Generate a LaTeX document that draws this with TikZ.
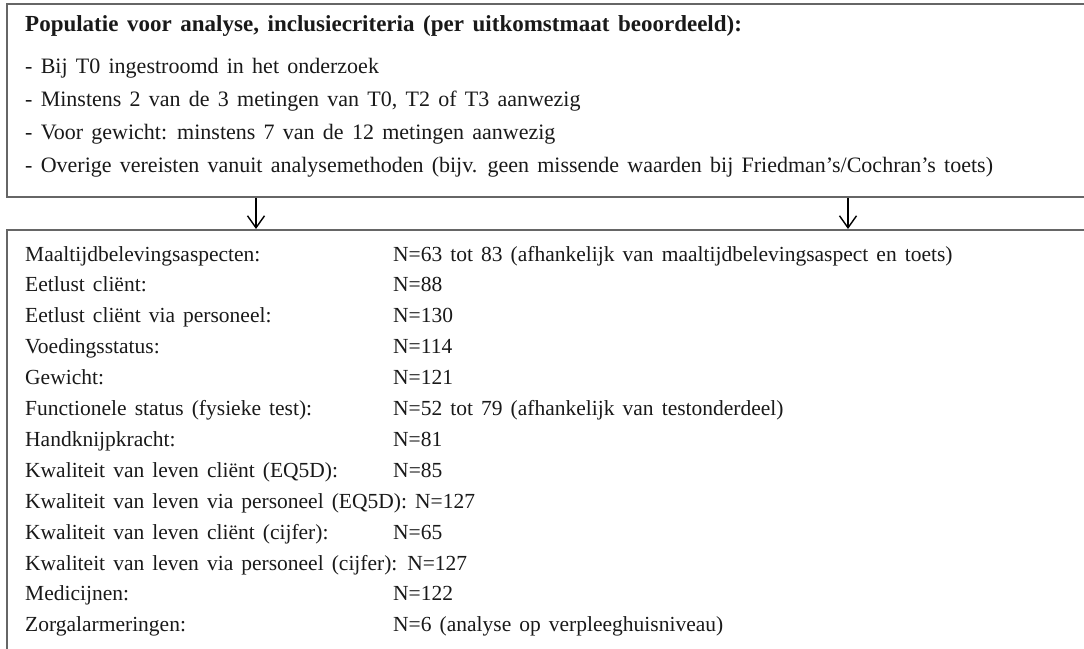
\documentclass[tikz,border=0pt]{standalone}
\usepackage{fontspec}
\setmainfont{Liberation Serif}[WordSpace=1.3]
\newfontfamily\topfont{Liberation Serif}[WordSpace=1.5,Ligatures=TeX]
\usetikzlibrary{arrows.meta}
\newcommand{\rowlab}[1]{\makebox[368pt][l]{#1}}
\begin{document}
\begin{tikzpicture}[x=1pt,y=-1pt,
 boxframe/.style={draw=black!60,line width=1.8pt,rectangle,inner sep=0pt,anchor=north west},
 txt/.style={anchor=base west,inner sep=0pt,font=\fontsize{21.5}{24}\selectfont,text=black!90},
 toptxt/.style={txt,font=\topfont\fontsize{22}{24}\selectfont},
 ttl/.style={txt,font=\topfont\fontsize{23}{24}\selectfont\bfseries},
 arr/.style={-{Straight Barb[length=12pt,width=17pt,line width=1.4pt]},line width=1.4pt}]
\useasboundingbox (0,0) rectangle (1084,648);
\node[boxframe,minimum width=1100pt,minimum height=193pt] (top) at (6,3) {};
\node[boxframe,minimum width=1100pt,minimum height=440pt] (bot) at (6,229) {};
\node[ttl] (t0) at (25,31) {Populatie voor analyse, inclusiecriteria (per uitkomstmaat beoordeeld):};
\node[toptxt] (t1) at (25,73) {- Bij T0 ingestroomd in het onderzoek};
\node[toptxt] (t2) at (25,106) {- Minstens 2 van de 3 metingen van T0, T2 of T3 aanwezig};
\node[toptxt] (t3) at (25,139) {- Voor gewicht: minstens 7 van de 12 metingen aanwezig};
\node[toptxt] (t4) at (25,172) {- Overige vereisten vanuit analysemethoden (bijv. geen missende waarden bij Friedman’s/Cochran’s toets)};
\coordinate (a1) at (256,0);
\coordinate (a2) at (848,0);
\draw[arr] (top.south -| a1) -- (bot.north -| a1);
\draw[arr] (top.south -| a2) -- (bot.north -| a2);
\node[txt] (r1) at (25,261) {\rowlab{Maaltijdbelevingsaspecten:}N=63 tot 83 (afhankelijk van maaltijdbelevingsaspect en toets)};
\node[txt] (r2) at (25,291.9) {\rowlab{Eetlust cliënt:}N=88};
\node[txt] (r3) at (25,322.8) {\rowlab{Eetlust cliënt via personeel:}N=130};
\node[txt] (r4) at (25,353.7) {\rowlab{Voedingsstatus:}N=114};
\node[txt] (r5) at (25,384.6) {\rowlab{Gewicht:}N=121};
\node[txt] (r6) at (25,415.5) {\rowlab{Functionele status (fysieke test):}N=52 tot 79 (afhankelijk van testonderdeel)};
\node[txt] (r7) at (25,446.4) {\rowlab{Handknijpkracht:}N=81};
\node[txt] (r8) at (25,477.3) {\rowlab{Kwaliteit van leven cliënt (EQ5D):}N=85};
\node[txt] (r9) at (25,508.2) {Kwaliteit van leven via personeel (EQ5D): N=127};
\node[txt] (r10) at (25,539.1) {\rowlab{Kwaliteit van leven cliënt (cijfer):}N=65};
\node[txt] (r11) at (25,570) {Kwaliteit van leven via personeel (cijfer): N=127};
\node[txt] (r12) at (25,600.9) {\rowlab{Medicijnen:}N=122};
\node[txt] (r13) at (25,631.8) {\rowlab{Zorgalarmeringen:}N=6 (analyse op verpleeghuisniveau)};
\end{tikzpicture}
\end{document}
